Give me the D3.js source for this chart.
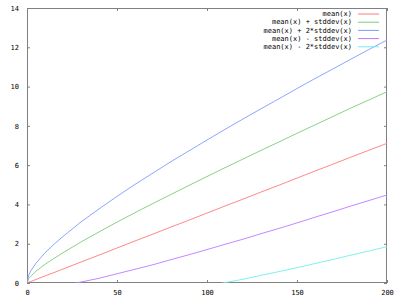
<!DOCTYPE html>
<html>
<head>
<meta charset="utf-8">
<script src="https://cdn.jsdelivr.net/npm/d3@7"></script>
<style>
  body { margin: 0; background: #fff; }
  text { font-family: "DejaVu Sans Mono", monospace; font-size: 7px; fill: #000; }
</style>
</head>
<body>
<script>
// values
var xs       = [0, 1, 2, 5, 10, 15, 20, 30, 40, 50, 60, 70, 80, 90, 100, 110, 120, 130, 140, 150, 160, 170, 180, 190, 200];
var mean     = [0, 0.04, 0.07, 0.18, 0.36, 0.53, 0.71, 1.07, 1.42, 1.78, 2.14, 2.49, 2.85, 3.20, 3.56, 3.92, 4.27, 4.63, 4.98, 5.34, 5.70, 6.05, 6.41, 6.76, 7.11];
var plus1sd  = [0, 0.23, 0.33, 0.60, 0.95, 1.25, 1.54, 2.09, 2.60, 3.10, 3.58, 4.05, 4.51, 4.97, 5.42, 5.87, 6.31, 6.75, 7.18, 7.62, 8.05, 8.48, 8.91, 9.32, 9.74];
var plus2sd  = [0, 0.41, 0.60, 1.01, 1.54, 1.97, 2.37, 3.11, 3.77, 4.41, 5.02, 5.60, 6.18, 6.73, 7.28, 7.82, 8.35, 8.87, 9.38, 9.90, 10.41, 10.90, 11.40, 11.89, 12.37];
var minus1sd = [0, -0.15, -0.19, -0.24, -0.23, -0.19, -0.12, 0.05, 0.24, 0.47, 0.70, 0.93, 1.19, 1.44, 1.70, 1.97, 2.23, 2.51, 2.78, 3.06, 3.35, 3.63, 3.92, 4.20, 4.48];
var minus2sd = [0, -0.33, -0.46, -0.65, -0.82, -0.91, -0.95, -0.97, -0.93, -0.85, -0.74, -0.62, -0.48, -0.33, -0.16, 0.02, 0.19, 0.39, 0.58, 0.78, 0.99, 1.20, 1.42, 1.63, 1.85];

var names  = ["mean(x)", "mean(x) + stddev(x)", "mean(x) + 2*stddev(x)", "mean(x) - stddev(x)", "mean(x) - 2*stddev(x)"];
var colors = ["#ff7a7a", "#7acc7a", "#7f9cff", "#bb7aff", "#74eeee"];
var series = [mean, plus1sd, plus2sd, minus1sd, minus2sd];

var xTicks = [0, 50, 100, 150, 200];
var yTicks = [0, 2, 4, 6, 8, 10, 12, 14];

drawChart();

function drawChart(){
    var width = 400, height = 300;
    var pLeft = 27, pRight = 387, pTop = 8, pBottom = 283;

    var svg = d3.select("body").append("svg")
        .attr("width", width)
        .attr("height", height);

    var x = d3.scaleLinear().domain([0, 200]).range([pLeft, pRight]);
    var y = d3.scaleLinear().domain([0, 14]).range([pBottom, pTop]);

    svg.append("clipPath").attr("id", "clip")
      .append("rect")
        .attr("x", pLeft).attr("y", pTop)
        .attr("width", pRight - pLeft).attr("height", pBottom - pTop);

    //axes with small inward ticks, mirrored on top and right
    function styleAxis(g){
        g.select(".domain").remove();
        g.selectAll(".tick line").attr("stroke", "#808080");
        g.selectAll(".tick text").style("font-family", "DejaVu Sans Mono, monospace").style("font-size", "7px");
    }
    svg.append("g")
        .attr("transform", "translate(0," + pBottom + ")")
        .call(d3.axisBottom(x).tickValues(xTicks).tickSize(-3).tickPadding(7))
        .call(styleAxis);
    svg.append("g")
        .attr("transform", "translate(0," + pTop + ")")
        .call(d3.axisTop(x).tickValues(xTicks).tickSize(-3).tickFormat(""))
        .call(styleAxis);
    svg.append("g")
        .attr("transform", "translate(" + pLeft + ",0)")
        .call(d3.axisLeft(y).tickValues(yTicks).tickSize(-3).tickPadding(8))
        .call(styleAxis);
    svg.append("g")
        .attr("transform", "translate(" + pRight + ",0)")
        .call(d3.axisRight(y).tickValues(yTicks).tickSize(-3).tickFormat(""))
        .call(styleAxis);

    svg.append("rect")
        .attr("x", pLeft + 0.5).attr("y", pTop + 0.5)
        .attr("width", pRight - pLeft - 1).attr("height", pBottom - pTop - 1)
        .attr("fill", "none")
        .attr("stroke", "#808080");

    var line = d3.line()
        .x(function(d, i){ return x(xs[i]); })
        .y(function(d){ return y(d); });

    svg.append("g").attr("clip-path", "url(#clip)")
      .selectAll("path")
      .data(series)
      .enter()
      .append("path")
        .attr("d", line)
        .attr("fill", "none")
        .attr("stroke", function(d, i){ return colors[i]; })
        .attr("stroke-width", 0.9);

    //legend, top right
    var legend = svg.append("g");
    names.forEach(function(n, i){
        var ly = 14 + i * 8.2;
        legend.append("text")
            .attr("x", 352)
            .attr("y", ly)
            .attr("dy", "0.32em")
            .attr("text-anchor", "end")
            .text(n);
        legend.append("line")
            .attr("x1", 358).attr("x2", 379)
            .attr("y1", ly).attr("y2", ly)
            .attr("stroke", colors[i]);
    });
}
</script>
</body>
</html>
